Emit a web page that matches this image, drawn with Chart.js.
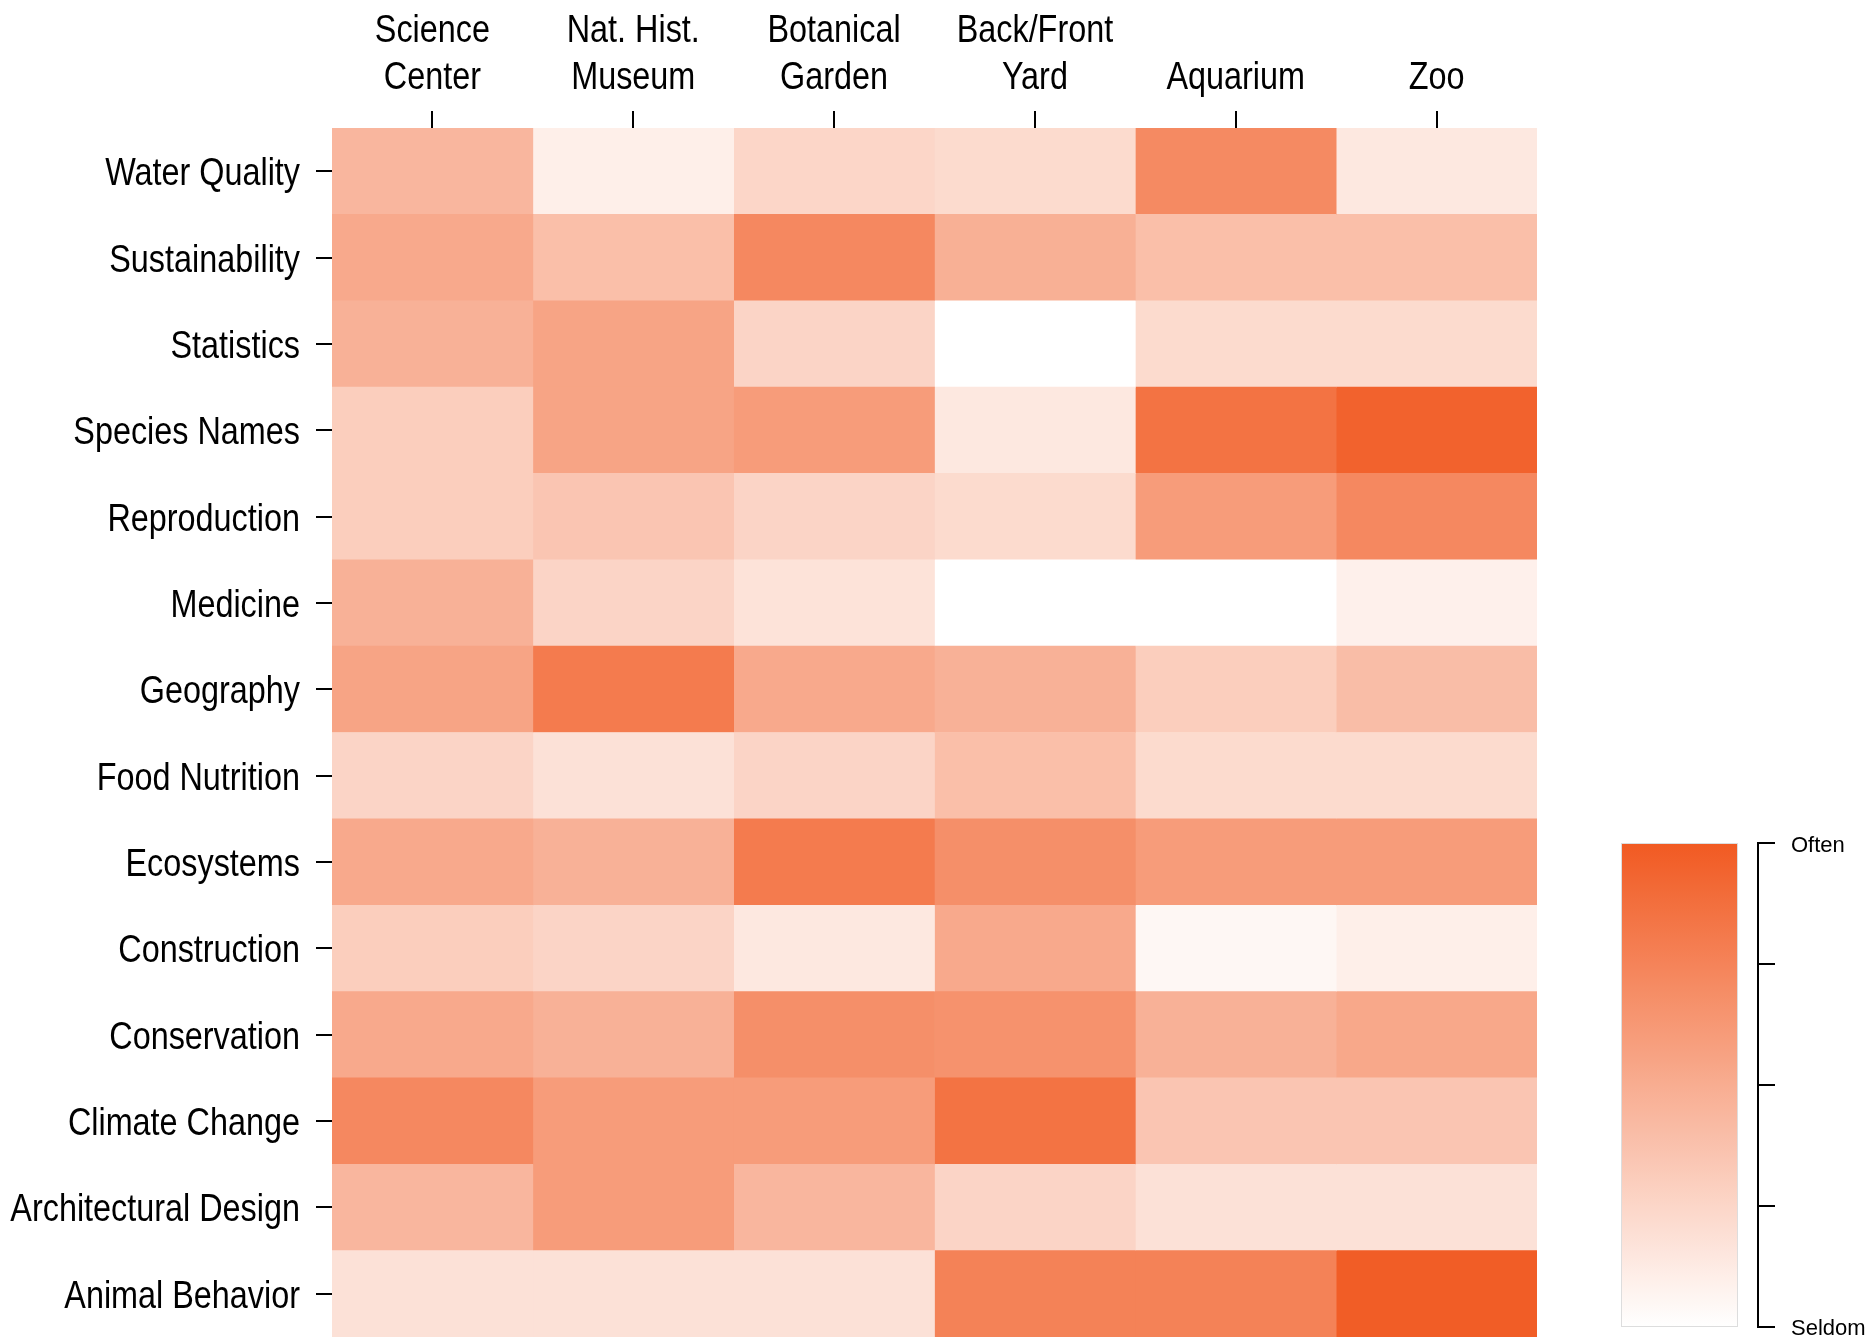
<!DOCTYPE html>
<html><head><meta charset="utf-8">
<script src="https://cdn.jsdelivr.net/npm/chart.js@4"></script>
<style>html,body{margin:0;padding:0;background:#fff;overflow:hidden}</style>
</head><body>
<canvas id="c" width="1872" height="1338"></canvas>
<script>
const topics = ['Water Quality','Sustainability','Statistics','Species Names','Reproduction','Medicine','Geography','Food Nutrition','Ecosystems','Construction','Conservation','Climate Change','Architectural Design','Animal Behavior'];
const venues = [['Science','Center'],['Nat. Hist.','Museum'],['Botanical','Garden'],['Back/Front','Yard'],['Aquarium'],['Zoo']];
// intensity per topic (0 = Seldom, 1 = Often), one array per venue column
const scienceCenter   = [0.44,0.52,0.47,0.30,0.30,0.47,0.55,0.26,0.52,0.30,0.52,0.72,0.44,0.18];
const natHistMuseum   = [0.10,0.39,0.55,0.55,0.35,0.26,0.80,0.18,0.47,0.26,0.47,0.60,0.60,0.18];
const botanicalGarden = [0.25,0.72,0.26,0.60,0.26,0.17,0.52,0.26,0.80,0.14,0.68,0.60,0.44,0.18];
const backFrontYard   = [0.22,0.48,0.00,0.14,0.22,0.00,0.47,0.39,0.68,0.52,0.66,0.85,0.26,0.76];
const aquarium        = [0.71,0.39,0.22,0.85,0.60,0.00,0.30,0.22,0.60,0.05,0.47,0.35,0.18,0.76];
const zoo             = [0.14,0.39,0.22,0.95,0.72,0.09,0.40,0.22,0.60,0.10,0.53,0.35,0.18,0.98];
const columnValues = [scienceCenter, natHistMuseum, botanicalGarden, backFrontYard, aquarium, zoo];
const scaleLabels = ['Often','Seldom'];

const LOW = [255,255,255], HIGH = [241,90,34];
function colorFor(v){
  const c = LOW.map((l,i)=>Math.round(l + (HIGH[i]-l)*v));
  return 'rgb('+c.join(',')+')';
}
const LABEL_FONT = "39px 'Liberation Sans',Arial,sans-serif";
const NARROW = 0.83;

function narrowText(ctx, text, x, y, align){
  ctx.save();
  ctx.translate(x, y);
  ctx.scale(NARROW, 1);
  ctx.textAlign = align;
  ctx.textBaseline = 'alphabetic';
  ctx.fillText(text, 0, 0);
  ctx.restore();
}

const axisLabels = {
  id:'axisLabels',
  afterDraw(chart){
    const ctx = chart.ctx, a = chart.chartArea;
    const xs = chart.scales.x, ys = chart.scales.y;
    ctx.save();
    ctx.fillStyle = '#000';
    ctx.font = LABEL_FONT;
    topics.forEach((t,i)=>{
      narrowText(ctx, t, a.left - 32, ys.getPixelForTick(i) + 14, 'right');
    });
    const base = a.top - 39;
    venues.forEach((lines,i)=>{
      const x = xs.getPixelForTick(i);
      lines.forEach((ln,k)=>{
        narrowText(ctx, ln, x, base - (lines.length-1-k)*47, 'center');
      });
    });
    ctx.restore();
  }
};

const colorbar = {
  id:'colorbar',
  afterDraw(chart){
    const ctx = chart.ctx, a = chart.chartArea;
    const x0 = a.right + 84, x1 = a.right + 201, y0 = 843, y1 = 1327;
    ctx.save();
    const g = ctx.createLinearGradient(0, y1, 0, y0);
    for(let k=0;k<=20;k++) g.addColorStop(k/20, colorFor(k/20));
    ctx.fillStyle = g;
    ctx.fillRect(x0, y0, x1-x0, y1-y0);
    ctx.strokeStyle = '#dddddd'; ctx.lineWidth = 1;
    ctx.strokeRect(x0+0.5, y0+0.5, x1-x0-1, y1-y0-1);
    const ax = a.right + 221;
    ctx.strokeStyle = '#000'; ctx.lineWidth = 2;
    ctx.beginPath(); ctx.moveTo(ax, y0); ctx.lineTo(ax, y1); ctx.stroke();
    for(let k=0;k<5;k++){
      const y = y0 + (y1-y0)*k/4;
      ctx.beginPath(); ctx.moveTo(ax-1, y); ctx.lineTo(ax+17, y); ctx.stroke();
    }
    ctx.fillStyle = '#000';
    ctx.font = "22px 'Liberation Sans',Arial,sans-serif";
    ctx.textAlign = 'left'; ctx.textBaseline = 'alphabetic';
    ctx.fillText(scaleLabels[0], ax+33, y0+9);
    ctx.fillText(scaleLabels[1], ax+33, 1335);
    ctx.restore();
  }
};

new Chart(document.getElementById('c'), {
  type:'bar',
  data:{
    labels: topics,
    datasets: columnValues.map((vals,i)=>({
      label: venues[i].join(' '),
      data: vals.map(()=>1),
      backgroundColor: vals.map(colorFor),
      borderWidth: 0,
      barPercentage: 1,
      categoryPercentage: 1
    }))
  },
  options:{
    indexAxis:'y',
    responsive:false,
    animation:false,
    devicePixelRatio:1,
    layout:{padding:{left:0,right:335,top:0,bottom:1}},
    plugins:{legend:{display:false},tooltip:{enabled:false}},
    scales:{
      x:{
        type:'linear', position:'top', stacked:true, min:0, max:venues.length,
        afterBuildTicks(s){ s.ticks = venues.map((v,i)=>({value:i+0.5})); },
        afterFit(s){ s.height = 128; s.paddingLeft = 0; s.paddingRight = 0; },
        ticks:{display:false},
        grid:{drawOnChartArea:false, drawTicks:true, tickLength:17, color:'#000', lineWidth:2},
        border:{display:false}
      },
      y:{
        type:'category', stacked:true, offset:true,
        afterFit(s){ s.width = 332; s.paddingTop = 0; s.paddingBottom = 0; },
        ticks:{display:false, autoSkip:false},
        grid:{offset:false, drawOnChartArea:false, drawTicks:true, tickLength:16, color:'#000', lineWidth:2},
        border:{display:false}
      }
    }
  },
  plugins:[axisLabels, colorbar]
});
</script>
</body></html>
